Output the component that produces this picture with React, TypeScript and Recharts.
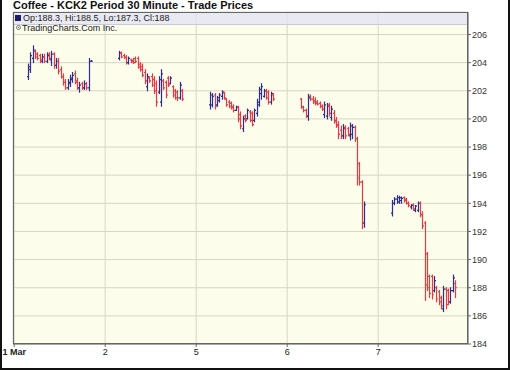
import { Bar, BarChart, CartesianGrid, XAxis, YAxis } from "recharts";

const FONT = '"Liberation Sans", Arial, sans-serif';
const UP = "#2e2e8c";
const DOWN = "#e63a44";

const dayLabels = ["1 Mar", "2", "5", "6", "7"];
const slotsPerDay = 39;
const sessionOffset = 6;
const yTicks = [184, 186, 188, 190, 192, 194, 196, 198, 200, 202, 204, 206];

// [open, high, low, close] per 30 minute bar
const mar1 = [
  [203.0, 203.9, 202.8, 203.7], [203.5, 204.7, 203.3, 204.5], [204.3, 205.2, 204.0, 204.9], [204.8, 204.9, 204.3, 204.4],
  [204.6, 204.7, 204.2, 204.3], [204.5, 204.6, 204.0, 204.2], [204.1, 204.6, 204.0, 204.4], [204.4, 204.6, 204.0, 204.1],
  [204.1, 204.7, 204.0, 204.5], [204.6, 204.7, 204.2, 204.3], [204.2, 204.8, 203.8, 204.6], [204.6, 204.7, 203.6, 203.8],
  [203.8, 204.3, 203.6, 204.1], [204.1, 204.3, 203.2, 203.4], [203.5, 203.7, 202.9, 203.0], [203.0, 203.2, 202.4, 202.6],
  [202.6, 202.8, 202.1, 202.2], [202.2, 202.8, 202.1, 202.6], [202.5, 203.1, 202.3, 202.9], [202.8, 203.3, 202.6, 203.1],
  [203.2, 203.4, 202.5, 202.6], [202.7, 202.9, 202.1, 202.2], [202.2, 202.6, 201.9, 202.4], [202.5, 202.6, 202.1, 202.2],
  [202.2, 202.7, 202.1, 202.5], [202.5, 202.6, 202.1, 202.2], [202.2, 204.3, 202.0, 204.1], [204.1, 204.15, 204.1, 204.1],
];
const mar2 = [
  [204.3, 204.8, 204.2, 204.7], [204.7, 204.75, 204.35, 204.4], [204.5, 204.6, 204.3, 204.35], [204.4, 204.5, 203.9, 204.0],
  [204.0, 204.4, 203.9, 204.3], [204.2, 204.25, 204.0, 204.05], [204.15, 204.3, 203.95, 204.0], [204.3, 204.4, 204.0, 204.1],
  [204.3, 204.4, 203.6, 203.7], [203.9, 204.0, 203.4, 203.5], [203.7, 203.9, 203.0, 203.1], [203.3, 203.5, 202.5, 202.7],
  [202.3, 203.2, 202.0, 203.0], [202.9, 203.0, 202.6, 202.7], [203.0, 203.2, 202.3, 202.4], [202.8, 203.0, 201.8, 202.0],
  [202.5, 202.7, 200.9, 201.2], [201.9, 203.0, 201.8, 202.8], [201.2, 203.5, 200.9, 203.2], [202.7, 202.8, 202.1, 202.2],
  [202.6, 202.7, 201.5, 201.7], [202.9, 203.0, 202.3, 202.4], [202.5, 203.0, 202.5, 202.9], [202.3, 202.35, 201.55, 201.7],
  [202.0, 202.1, 201.4, 201.5], [201.9, 202.0, 201.3, 201.5], [201.5, 202.6, 201.4, 202.4], [202.0, 202.1, 201.3, 201.4],
];
const mar5 = [
  [201.0, 201.9, 200.7, 201.7], [201.0, 201.8, 200.85, 201.6], [201.7, 201.8, 200.7, 200.9], [201.0, 201.6, 200.9, 201.5],
  [201.3, 201.8, 201.2, 201.7], [201.6, 202.0, 201.4, 201.9], [201.85, 201.9, 201.4, 201.5], [201.4, 201.45, 200.9, 201.0],
  [201.2, 201.3, 200.8, 200.9], [201.1, 201.2, 200.7, 200.8], [200.9, 201.0, 200.5, 200.6], [200.6, 200.9, 200.6, 200.85],
  [200.8, 200.9, 199.8, 200.0], [200.3, 200.5, 199.3, 199.5], [199.3, 200.2, 199.1, 200.0], [200.2, 200.3, 199.8, 199.9],
  [200.0, 200.7, 200.0, 200.6], [200.5, 200.6, 199.8, 199.9], [200.4, 200.5, 199.5, 199.6], [199.9, 200.7, 199.8, 200.6],
  [200.4, 201.4, 200.2, 201.2], [201.0, 202.25, 200.9, 202.1], [201.8, 202.5, 201.4, 202.3], [201.6, 202.1, 201.55, 202.0],
  [202.0, 202.1, 201.4, 201.5], [201.9, 202.0, 201.05, 201.2], [201.2, 201.9, 201.05, 201.8], [201.7, 201.8, 201.3, 201.4],
];
const mar6 = [
  [201.4, 201.45, 200.75, 200.85], [200.85, 200.9, 200.5, 200.6], [200.6, 200.7, 200.1, 200.2], [200.2, 201.75, 199.9, 201.5],
  [201.6, 201.7, 201.3, 201.4], [201.4, 201.6, 201.1, 201.2], [201.3, 201.5, 201.0, 201.1], [201.2, 201.3, 201.0, 201.05],
  [201.1, 201.2, 200.8, 200.9], [200.9, 201.0, 200.6, 200.7], [200.3, 201.2, 200.1, 201.0], [200.2, 201.1, 200.0, 200.9],
  [201.0, 201.1, 200.2, 200.4], [200.1, 200.9, 199.9, 200.7], [200.4, 200.6, 199.7, 199.8], [199.9, 200.1, 199.4, 199.5],
  [199.6, 199.8, 198.6, 198.9], [199.2, 199.5, 198.6, 198.8], [198.8, 199.6, 198.6, 199.3], [199.4, 199.5, 198.6, 198.8],
  [199.3, 199.4, 198.8, 198.9], [198.8, 199.7, 198.5, 199.5], [198.9, 199.6, 198.6, 199.4], [199.4, 199.5, 198.4, 198.6],
  [198.6, 198.7, 195.3, 195.8], [196.8, 196.9, 195.3, 195.5], [195.5, 195.6, 192.2, 192.6], [192.6, 194.1, 192.3, 193.9],
];
const mar7 = [
  [193.3, 194.2, 193.1, 194.0], [194.0, 194.4, 193.9, 194.3], [194.3, 194.55, 194.0, 194.4], [194.1, 194.5, 194.0, 194.4],
  [194.2, 194.45, 194.0, 194.35], [194.4, 194.45, 194.1, 194.2], [194.3, 194.35, 193.95, 194.0], [194.0, 194.1, 193.75, 193.85],
  [193.75, 193.9, 193.6, 193.85], [193.9, 193.95, 193.5, 193.6], [193.5, 193.85, 193.4, 193.8], [193.5, 194.1, 193.4, 194.0],
  [194.0, 194.1, 193.05, 193.2], [193.2, 193.4, 192.2, 192.4], [192.6, 192.7, 187.1, 188.2], [190.4, 190.5, 187.8, 188.0],
  [188.8, 188.9, 187.3, 187.6], [188.8, 188.9, 187.2, 187.5], [187.8, 188.8, 187.7, 188.5], [188.0, 188.1, 187.0, 187.2],
  [187.7, 187.8, 186.8, 187.0], [187.3, 187.4, 186.5, 186.7], [186.5, 188.1, 186.3, 187.9], [187.9, 188.0, 186.5, 186.8],
  [187.8, 187.9, 186.8, 187.0], [187.0, 188.0, 186.9, 187.8], [187.8, 188.9, 187.7, 188.7], [188.3, 188.5, 187.3, 188.0],
];
const sessions = [mar1, mar2, mar5, mar6, mar7];

type Slot = { slot: number; open?: number; high?: number; low?: number; close?: number };

const data: Slot[] = Array.from({ length: dayLabels.length * slotsPerDay }, (_, i) => ({ slot: i }));
sessions.forEach((bars, day) => {
  bars.forEach(([open, high, low, close], j) => {
    Object.assign(data[day * slotsPerDay + sessionOffset + j], { open, high, low, close });
  });
});
const dayTicks = dayLabels.map((_, i) => i * slotsPerDay);

function OhlcBar(props: any) {
  const { x, y, width, height, payload } = props;
  if (!payload || payload.open == null) return null;
  const top = Math.min(y, y + height);
  const bottom = Math.max(y, y + height);
  const span = payload.high - payload.low;
  const toY = (v: number) => (span > 0 ? top + ((payload.high - v) / span) * (bottom - top) : top);
  const cx = Math.round(x + width / 2) + 0.5;
  const color = payload.close >= payload.open ? UP : DOWN;
  return (
    <g stroke={color} strokeWidth={1.2}>
      <line x1={cx} x2={cx} y1={top - 0.5} y2={bottom + 0.5} />
      <line x1={cx - 1.5} x2={cx} y1={toY(payload.open)} y2={toY(payload.open)} />
      <line x1={cx} x2={cx + 1.5} y1={toY(payload.close)} y2={toY(payload.close)} />
    </g>
  );
}

function DayTick(props: any) {
  const { x, y, payload } = props;
  const i = dayTicks.indexOf(payload.value);
  return (
    <text x={x} y={y} dy="0.71em" textAnchor="middle" fontSize={9} fontFamily={FONT}
      fontWeight={i === 0 ? "bold" : "normal"} fill="#222">
      {dayLabels[i]}
    </text>
  );
}

export default function App() {
  return (
    <div style={{ position: "relative", width: 510, height: 370, background: "#fff", fontFamily: FONT }}>
      <style>{"body{margin:0}"}</style>
      <BarChart width={510} height={370} data={data} barCategoryGap={0}
        margin={{ top: 12, right: 2, bottom: 2, left: 13 }}>
        <CartesianGrid stroke="#d6d6c4" fill="#fdfdec" />
        <XAxis dataKey="slot" ticks={dayTicks} interval={0} tick={<DayTick />} height={24}
          tickSize={3} tickMargin={2} axisLine={{ stroke: "#666" }} tickLine={{ stroke: "#666" }} />
        <YAxis orientation="right" width={40} domain={[184, 207.6]} ticks={yTicks} interval={0}
          tickSize={3} tickMargin={1} axisLine={{ stroke: "#666" }} tickLine={{ stroke: "#666" }}
          tick={{ fill: "#333", fontSize: 9, fontFamily: FONT }} />
        <Bar dataKey={(d: Slot) => (d.high == null ? null : [d.low, d.high])}
          shape={<OhlcBar />} isAnimationActive={false} />
      </BarChart>

      <div style={{ position: "absolute", left: 13, top: 0, fontSize: 11, lineHeight: "11px", fontWeight: "bold", color: "#111", whiteSpace: "nowrap" }}>
        Coffee - KCK2 Period 30 Minute - Trade Prices
      </div>
      <div style={{ position: "absolute", left: 13, top: 12, width: 455, height: 332, border: "1px solid #666", boxSizing: "border-box", pointerEvents: "none" }} />
      <div style={{ position: "absolute", left: 14, top: 13, width: 453, height: 11, background: "rgba(226,226,246,0.75)", borderBottom: "1px solid #c8c8d8" }} />
      <div style={{ position: "absolute", left: 15, top: 15, width: 6, height: 6, background: "#1c1c6c" }} />
      <div style={{ position: "absolute", left: 23, top: 14, fontSize: 9, lineHeight: "9px", color: "#222", whiteSpace: "nowrap" }}>
        Op:188.3, Hi:188.5, Lo:187.3, Cl:188
      </div>
      <svg style={{ position: "absolute", left: 16, top: 25 }} width={5} height={5}>
        <circle cx={2.5} cy={2.5} r={2} fill="none" stroke="#777" strokeWidth={1} />
        <circle cx={2.5} cy={2.5} r={0.7} fill="#777" />
      </svg>
      <div style={{ position: "absolute", left: 22, top: 24, fontSize: 9, lineHeight: "9px", color: "#222", whiteSpace: "nowrap" }}>
        TradingCharts.Com Inc.
      </div>
      <div style={{ position: "absolute", inset: 0, borderLeft: "2px solid #111", borderRight: "2px solid #111", borderBottom: "2px solid #111", pointerEvents: "none" }} />
    </div>
  );
}
